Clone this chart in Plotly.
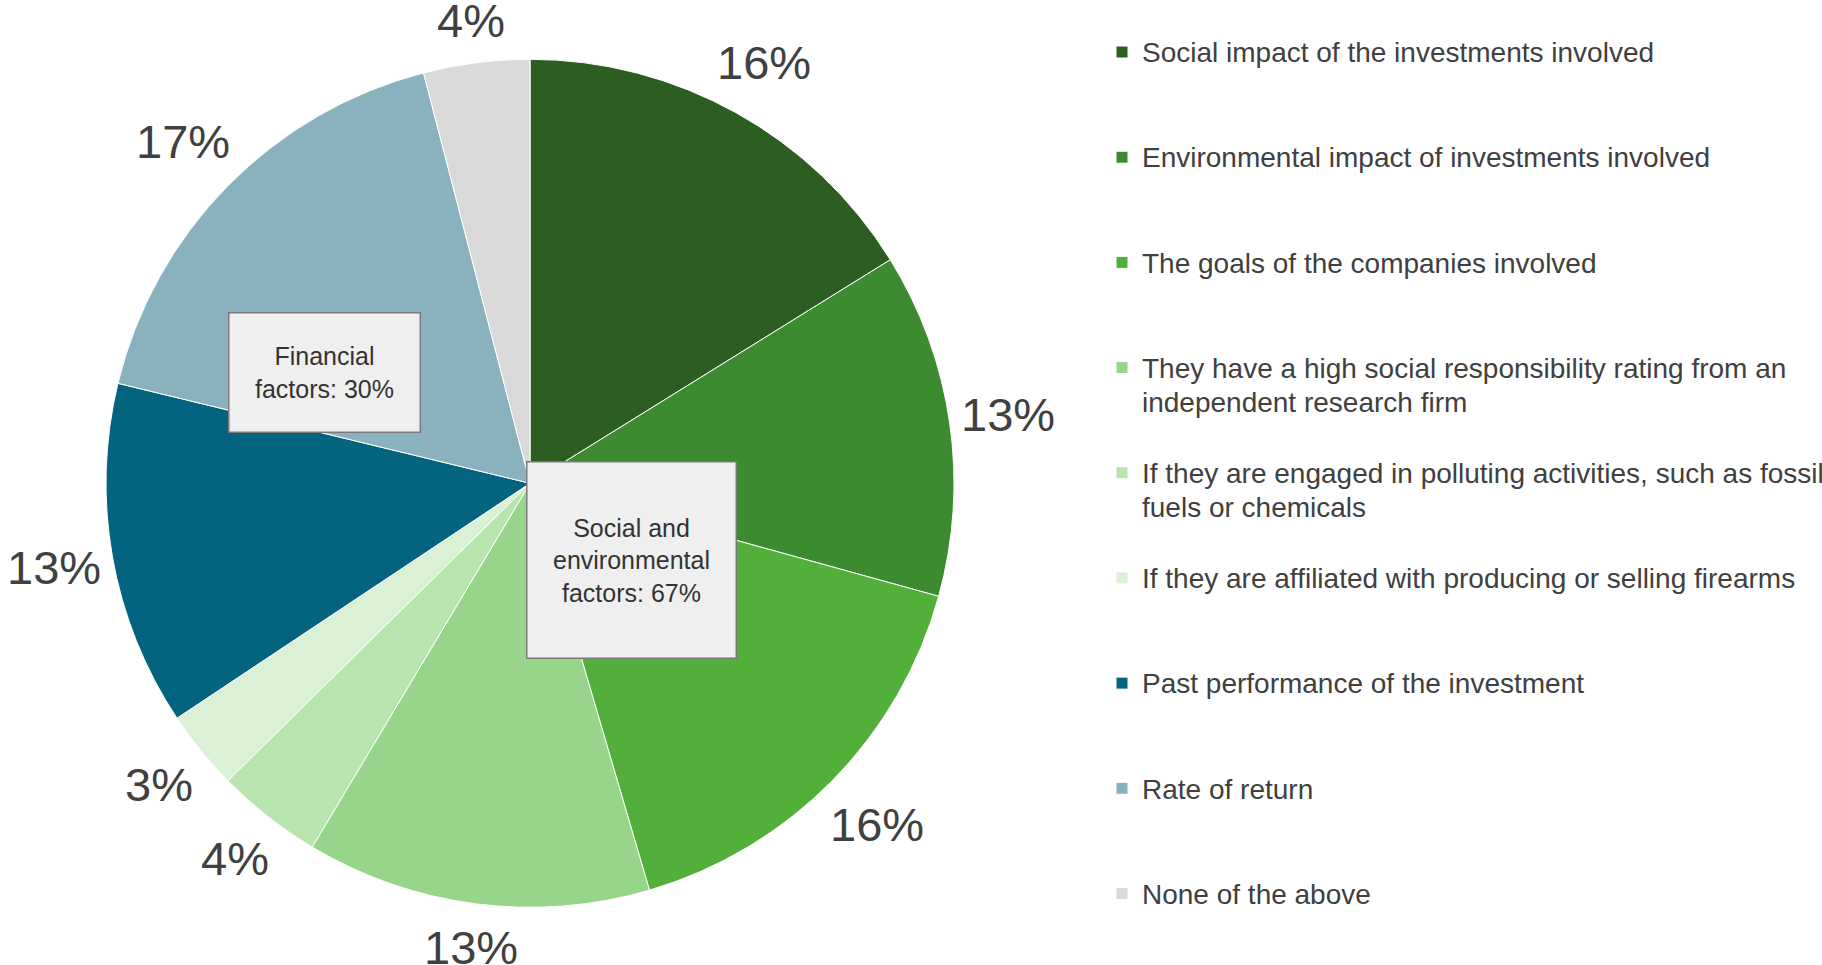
import math
import plotly.graph_objects as go

# Survey answers: what matters when choosing an investment
labels = [
    "Social impact of the investments involved",
    "Environmental impact of investments involved",
    "The goals of the companies involved",
    "They have a high social responsibility rating from an<br>independent research firm",
    "If they are engaged in polluting activities, such as fossil<br>fuels or chemicals",
    "If they are affiliated with producing or selling firearms",
    "Past performance of the investment",
    "Rate of return",
    "None of the above",
]
values = [16, 13, 16, 13, 4, 3, 13, 17, 4]
colors = [
    "#2b5e20", "#3d8b30", "#52b03a", "#97d68a", "#b8e4ae",
    "#dbf1d6", "#04647f", "#89b1be", "#d9d9d9",
]

group_notes = ["Financial<br>factors: 30%", "Social and<br>environmental<br>factors: 67%"]

TEXT = "#404040"
FONT = "Liberation Sans, Arial, sans-serif"
LEGEND_PX = 28
PCT_PX = 47

W, H = 1822, 965
cx, cy, r = 530, 483.3, 424


def legend_entry(label, last=False):
    # entries are padded to three lines so the legend rows are evenly spaced
    lines = label.split("<br>")
    styled = "<br>".join(f"<span style='font-size:{LEGEND_PX}px'>{ln}</span>" for ln in lines)
    if last:
        return styled
    return styled + "<br> " * (3 - len(lines))


fig = go.Figure(
    go.Pie(
        labels=[legend_entry(l, i == len(labels) - 1) for i, l in enumerate(labels)],
        values=values,
        sort=False,
        direction="clockwise",
        rotation=0,
        marker=dict(colors=colors, line=dict(color="white", width=1)),
        textinfo="none",
        hoverinfo="label+value",
        domain=dict(x=[(cx - r) / W, (cx + r) / W], y=[(H - cy - r) / H, (H - cy + r) / H]),
    )
)

# percentage labels sit just beyond the rim, on each slice's bisector
total = sum(values)
start = 0.0
for v in values:
    mid = (start + v / 2) / total * 2 * math.pi
    start += v
    txt = f"{v}%"
    half_w = sum(0.889 if ch == "%" else 0.556 for ch in txt) * PCT_PX / 2
    half_h = 0.65 * PCT_PX
    s, c = math.sin(mid), math.cos(mid)
    d = r + 8 + abs(s) * half_w + abs(c) * half_h
    px, py = cx + d * s, cy - d * c
    fig.add_annotation(
        text=txt, x=px / W, y=1 - py / H, xref="paper", yref="paper",
        xanchor="center", yanchor="middle", showarrow=False,
        font=dict(size=PCT_PX, color=TEXT, family=FONT),
    )

box = dict(
    xref="paper", yref="paper", showarrow=False, xanchor="center", yanchor="middle",
    bgcolor="#efefef", bordercolor="#7a7a7a", borderwidth=1.5, borderpad=0,
    font=dict(size=25, color="#333333", family=FONT),
    align="center", valign="middle",
)
fig.add_annotation(text=group_notes[0], x=324 / W, y=1 - 373 / H, width=190, height=118, **box)
fig.add_annotation(text=group_notes[1], x=631 / W, y=1 - 560 / H, width=208, height=195, **box)

fig.update_layout(
    width=W, height=H,
    margin=dict(l=0, r=0, t=0, b=0, autoexpand=False),
    paper_bgcolor="white",
    plot_bgcolor="white",
    font=dict(family=FONT, color=TEXT),
    showlegend=True,
    legend=dict(
        x=1102 / W, xanchor="left",
        y=1 - 28.5 / H, yanchor="top",
        valign="top",
        font=dict(size=26.2, color=TEXT),
        bgcolor="rgba(0,0,0,0)",
        traceorder="normal",
    ),
)

fig.write_html("out.html")
